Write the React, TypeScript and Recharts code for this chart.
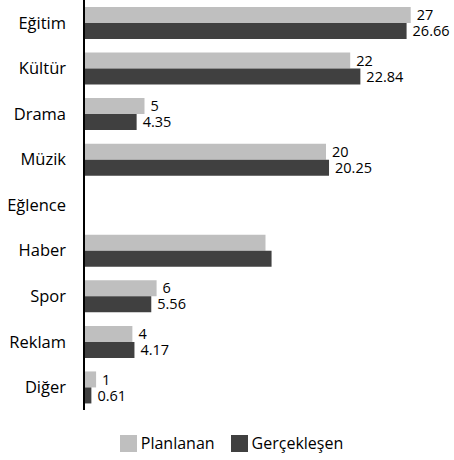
import React from 'react';
import { BarChart, Bar, XAxis, YAxis, Legend, LabelList } from 'recharts';

const categories = ['Eğitim', 'Kültür', 'Drama', 'Müzik', 'Eğlence', 'Haber', 'Spor', 'Reklam', 'Diğer'];
const planlanan = [27, 22, 5, 20, null, 15, 6, 4, 1];
const gerceklesen = [26.66, 22.84, 4.35, 20.25, null, 15.5, 5.56, 4.17, 0.61];
const seriesOrder = ['Planlanan', 'Gerçekleşen'];
// Haber has no value labels in the original
const unlabeled = ['Haber'];

const data = categories.map((name, i) => ({
  name,
  planlanan: planlanan[i],
  gerceklesen: gerceklesen[i],
  planLabel: unlabeled.includes(name) ? null : planlanan[i],
  gercLabel: unlabeled.includes(name) ? null : gerceklesen[i],
}));

const FONT = '"Open Sans", sans-serif';

const CustomLegend = ({ payload }: any) => {
  const items = [...(payload || [])].sort(
    (a: any, b: any) => seriesOrder.indexOf(a.value) - seriesOrder.indexOf(b.value)
  );
  return (
    <div style={{ display: 'flex', justifyContent: 'center', paddingLeft: 16, fontFamily: FONT, fontSize: 16, color: '#000' }}>
      {items.map((item: any, i: number) => (
        <div key={i} style={{ display: 'flex', alignItems: 'center', marginRight: i === 0 ? 16 : 0 }}>
          <span style={{ width: 17, height: 17, background: item.color, display: 'inline-block', marginRight: 4 }} />
          <span>{item.value}</span>
        </div>
      ))}
    </div>
  );
};

export default function App() {
  return (
    <div style={{ position: 'absolute', left: 0, top: 0, width: 454, height: 460, background: '#fff' }}>
      <BarChart
        width={454}
        height={460}
        data={data}
        layout="vertical"
        margin={{ top: 0, right: 7, left: 0, bottom: 28 }}
        barGap={0}
        barSize={16}
      >
        <XAxis type="number" domain={[0, 30]} hide />
        <YAxis
          type="category"
          dataKey="name"
          width={84}
          tickLine={false}
          axisLine={{ stroke: '#000', strokeWidth: 2 }}
          tickMargin={12}
          tick={{ fill: '#000', fontSize: 16.5, fontFamily: FONT }}
        />
        <Legend
          verticalAlign="bottom"
          content={<CustomLegend />}
          wrapperStyle={{ bottom: 6 }}
        />
        <Bar dataKey="planlanan" name="Planlanan" fill="#bfbfbf" isAnimationActive={false}>
          <LabelList dataKey="planLabel" position="right" offset={6} fill="#000" fontSize={14.5} fontFamily={FONT} />
        </Bar>
        <Bar dataKey="gerceklesen" name="Gerçekleşen" fill="#404040" isAnimationActive={false}>
          <LabelList dataKey="gercLabel" position="right" offset={6} fill="#000" fontSize={14.5} fontFamily={FONT} />
        </Bar>
      </BarChart>
    </div>
  );
}
